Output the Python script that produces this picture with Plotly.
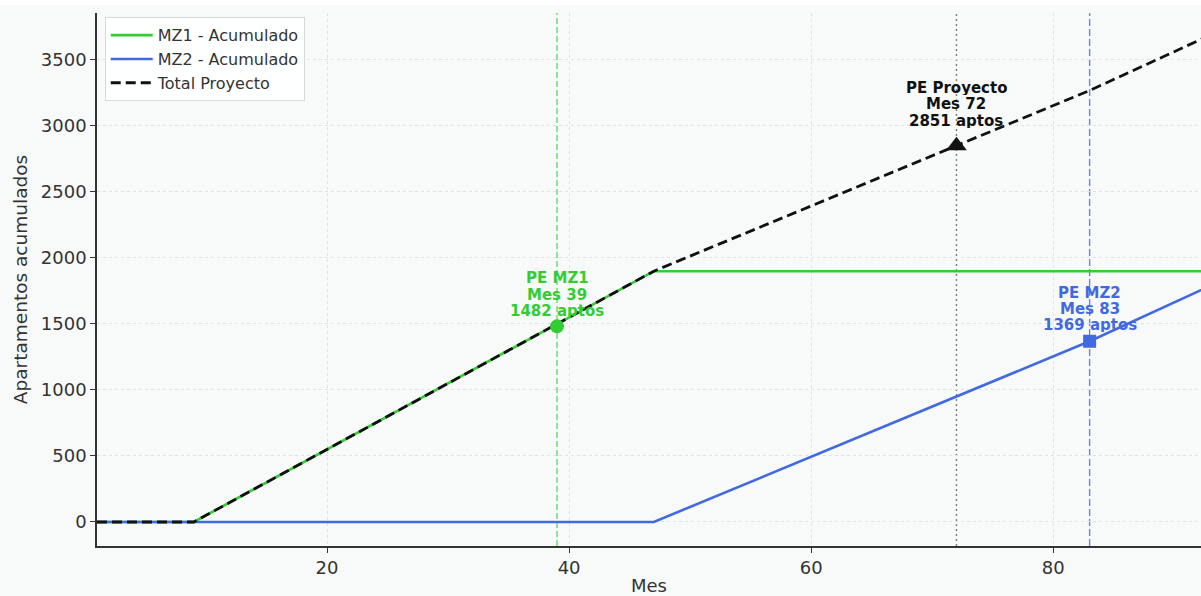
import plotly.graph_objects as go

# ---- data ----
mes = [1, 9, 47, 83, 93]
mz1_acum = [0, 0, 1900, 1900, 1900]
mz2_acum = [0, 0, 0, 1369, 1790]
total_proyecto = [a + b for a, b in zip(mz1_acum, mz2_acum)]

pe_mz1 = (39, 1482)
pe_mz2 = (83, 1369)
pe_proyecto = (72, 2851)

x_ticks = [20, 40, 60, 80]
y_ticks = [0, 500, 1000, 1500, 2000, 2500, 3000, 3500]

GREEN = "#32CD32"
BLUE = "#4169E1"
BLACK = "#111111"
BG = "#f8fafa"
FONT = "DejaVu Sans"

fig = go.Figure()

fig.add_trace(go.Scatter(x=mes, y=mz1_acum, mode="lines", name="MZ1 - Acumulado",
                         line=dict(color=GREEN, width=2.6)))
fig.add_trace(go.Scatter(x=mes, y=mz2_acum, mode="lines", name="MZ2 - Acumulado",
                         line=dict(color=BLUE, width=2.6)))
fig.add_trace(go.Scatter(x=mes, y=total_proyecto, mode="lines", name="Total Proyecto",
                         line=dict(color=BLACK, width=2.8, dash="10px,5px")))

# vertical reference lines
fig.add_vline(x=pe_mz1[0], layer="below", line=dict(color="rgba(50,205,50,0.75)", width=1.4, dash="6px,3px"))
fig.add_vline(x=pe_proyecto[0], layer="below", line=dict(color="rgba(90,90,90,0.8)", width=1.4, dash="2px,3px"))
fig.add_vline(x=pe_mz2[0], layer="below", line=dict(color="rgba(65,105,225,0.8)", width=1.4, dash="7px,3px"))

# markers
fig.add_trace(go.Scatter(x=[pe_mz1[0]], y=[pe_mz1[1]], mode="markers", showlegend=False,
                         marker=dict(symbol="circle", size=14, color=GREEN)))
fig.add_trace(go.Scatter(x=[pe_proyecto[0]], y=[pe_proyecto[1]], mode="markers", showlegend=False,
                         marker=dict(symbol="triangle-up", size=18, color=BLACK)))
fig.add_trace(go.Scatter(x=[pe_mz2[0]], y=[pe_mz2[1]], mode="markers", showlegend=False,
                         marker=dict(symbol="square", size=13, color=BLUE)))

def label(pt, title, color, shifts):
    lines = [title, f"Mes {pt[0]}", f"{pt[1]} aptos"]
    for txt, sh in zip(lines, shifts):
        fig.add_annotation(x=pt[0], y=pt[1], xref="x", yref="y", showarrow=False,
                           text=f"<b>{txt}</b>", height=15, borderpad=0,
                           font=dict(family=FONT, size=15, color=color),
                           xanchor="center", yanchor="middle", yshift=sh, align="center")

label(pe_mz1, "PE MZ1", GREEN, [49, 32, 16])
label(pe_mz2, "PE MZ2", BLUE, [49, 33, 17])
label(pe_proyecto, "PE Proyecto", BLACK, [58, 42, 25])

# white strip at the very top of the image
fig.add_shape(type="rect", xref="paper", yref="paper", x0=-0.2, x1=1.1,
              y0=1 + 8 / 533, y1=1 + 20 / 533, fillcolor="white", line=dict(width=0), layer="above")

fig.update_layout(
    width=1201, height=596,
    margin=dict(l=97, r=0, t=13, b=50),
    paper_bgcolor=BG, plot_bgcolor=BG,
    font=dict(family=FONT, color="#333333"),
    legend=dict(x=0.007, y=0.992, xanchor="left", yanchor="top",
                bgcolor="rgba(255,255,255,0.85)", bordercolor="#d8d8d8", borderwidth=1,
                itemwidth=42,
                font=dict(family=FONT, size=16, color="#333333"), tracegroupgap=0),
    showlegend=True,
)

fig.update_xaxes(range=[1, 92.2], tickvals=x_ticks, ticktext=[str(v) for v in x_ticks],
                 showline=True, linecolor="#333333", linewidth=1.5, mirror=False,
                 ticks="outside", ticklen=5, tickcolor="#333333",
                 showgrid=True, gridcolor="#e2e2e2", griddash="dot", gridwidth=1,
                 zeroline=False, tickfont=dict(size=18, color="#333333"),
                 title=dict(text="Mes", font=dict(size=18, color="#333333"), standoff=4))
fig.update_yaxes(range=[-182, 3856], tickvals=y_ticks, ticktext=[str(v) for v in y_ticks],
                 showline=True, linecolor="#333333", linewidth=1.5,
                 ticks="outside", ticklen=5, tickcolor="#333333",
                 showgrid=True, gridcolor="#e2e2e2", griddash="dot", gridwidth=1,
                 zeroline=False, tickfont=dict(size=18, color="#333333"),
                 title=dict(text="Apartamentos acumulados", font=dict(size=18.5, color="#333333"), standoff=8))

fig.write_html("out.html", config={"displayModeBar": False},
               post_script="document.body.style.margin='0';document.body.style.background='%s';" % BG)
